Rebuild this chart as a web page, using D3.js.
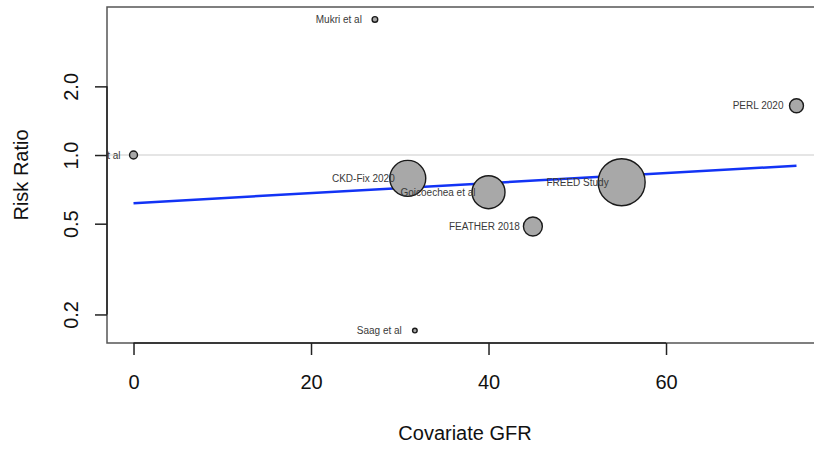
<!DOCTYPE html>
<html>
<head>
<meta charset="utf-8">
<script src="https://cdn.jsdelivr.net/npm/d3@7"></script>
<style>
  body { margin: 0; background: #fff; }
  svg { display: block; font-family: "Liberation Sans", Arial, Helvetica, sans-serif; }
</style>
</head>
<body>
<div id="chart"></div>
<script>
// study data
var studies = ["Mukri et al", "Oka et al", "CKD-Fix 2020", "Saag et al", "Goicoechea et al", "FEATHER 2018", "FREED Study", "PERL 2020"];
var gfr = [27.2, 0, 30.9, 31.7, 40.0, 45.0, 55.0, 74.7];
var rr = [3.93, 1.0, 0.79, 0.17, 0.687, 0.486, 0.76, 1.644];
var weights = [0.6, 1.2, 24.6, 0.4, 20.6, 6.8, 41.9, 3.7];

// fitted meta-regression line (ends)
var fit_x = [0, 74.7];
var fit_rr = [0.615, 0.898];

var x_ticks = [0, 20, 40, 60];
var y_ticks = [0.2, 0.5, 1.0, 2.0];

function add_svg(wrapper)
{
  var svg = d3.select(wrapper).select("svg");
  if (svg.empty())
    svg = d3.select(wrapper).append("svg");
  else
    svg.selectAll("*").remove();
  return svg.attr("width", 814).attr("height", 450);
}

function draw_bubble(wrapper)
{
  let svg = add_svg(wrapper);
  let left = 107, right = 823, top = 7, bottom = 343;

  // R style 4% padding on both axes
  let x_min = d3.min(gfr), x_max = d3.max(gfr);
  let xpad = (x_max - x_min) * 0.04;
  let scalex = d3.scaleLinear().domain([x_min - xpad, x_max + xpad]).range([left, right]);

  let ly = d3.extent(rr, d => Math.log10(d));
  let ypad = (ly[1] - ly[0]) * 0.04;
  let scaley = d3.scaleLog()
    .domain([Math.pow(10, ly[0] - ypad), Math.pow(10, ly[1] + ypad)])
    .range([bottom, top]);

  let scaler = d3.scaleSqrt().domain([0, d3.max(weights)]).range([0, 23.5]);

  svg.append("clipPath").attr("id", "clip")
    .append("rect").attr("x", left).attr("y", top)
    .attr("width", right - left).attr("height", bottom - top);

  // reference line at RR = 1
  svg.append("line")
    .attr("x1", left).attr("x2", right)
    .attr("y1", scaley(1)).attr("y2", scaley(1))
    .attr("stroke", "#dcdcdc").attr("stroke-width", 1.5);

  // regression line
  let line = d3.line().x(d => scalex(d[0])).y(d => scaley(d[1]));
  svg.append("path")
    .datum(fit_x.map((v, i) => [v, fit_rr[i]]))
    .attr("d", line)
    .attr("fill", "none")
    .attr("stroke", "#1233f5")
    .attr("stroke-width", 2.5);

  let g = svg.append("g").attr("clip-path", "url(#clip)");

  // bubbles
  g.selectAll("circle")
    .data(studies)
    .enter().append("circle")
    .attr("cx", (d, i) => scalex(gfr[i]))
    .attr("cy", (d, i) => scaley(rr[i]))
    .attr("r", (d, i) => Math.max(2.3, scaler(weights[i])))
    .attr("fill", "#a8a8a8")
    .attr("stroke", "#1a1a1a")
    .attr("stroke-width", 1.4);

  // study labels left of each bubble
  g.selectAll("text.lab")
    .data(studies)
    .enter().append("text")
    .attr("class", "lab")
    .attr("x", (d, i) => scalex(gfr[i]) - 13)
    .attr("y", (d, i) => scaley(rr[i]))
    .attr("dy", "0.35em")
    .attr("text-anchor", "end")
    .attr("font-size", 10)
    .attr("fill", "#3a3a3a")
    .text(d => d);

  // box
  svg.append("rect")
    .attr("x", left).attr("y", top)
    .attr("width", right - left).attr("height", bottom - top)
    .attr("fill", "none").attr("stroke", "#555").attr("stroke-width", 1.5);

  // x axis
  let x_axis = d3.axisBottom(scalex).tickValues(x_ticks).tickSize(12).tickPadding(20).tickFormat(d3.format("d"));
  let gx = svg.append("g").attr("transform", "translate(0," + bottom + ")").call(x_axis);
  gx.select(".domain").attr("d", "M" + scalex(x_ticks[0]) + ",0H" + scalex(x_ticks[x_ticks.length - 1]))
    .attr("stroke", "#222").attr("stroke-width", 1.5);
  gx.selectAll(".tick line").attr("stroke", "#222").attr("stroke-width", 1.5);
  gx.selectAll(".tick text").attr("font-size", 20).attr("fill", "#111")
    .attr("font-family", "Liberation Sans, Arial, sans-serif");

  // y axis, labels rotated like R's las=0
  let y_axis = d3.axisLeft(scaley).tickValues(y_ticks).tickSize(12).tickFormat(d3.format(".1f"));
  let gy = svg.append("g").attr("transform", "translate(" + left + ",0)").call(y_axis);
  gy.select(".domain").attr("d", "M0," + scaley(y_ticks[0]) + "V" + scaley(y_ticks[y_ticks.length - 1]))
    .attr("stroke", "#222").attr("stroke-width", 1.5);
  gy.selectAll(".tick line").attr("stroke", "#222").attr("stroke-width", 1.5);
  gy.selectAll(".tick text")
    .attr("x", null).attr("dy", null)
    .attr("transform", "translate(-29,0) rotate(-90)")
    .attr("text-anchor", "middle")
    .attr("font-size", 20).attr("fill", "#111")
    .attr("font-family", "Liberation Sans, Arial, sans-serif");

  // axis titles
  svg.append("text")
    .attr("x", (left + right) / 2).attr("y", 440)
    .attr("text-anchor", "middle").attr("font-size", 20).attr("fill", "#111")
    .text("Covariate GFR");

  svg.append("text")
    .attr("transform", "translate(28," + (top + bottom) / 2 + ") rotate(-90)")
    .attr("text-anchor", "middle").attr("font-size", 20).attr("fill", "#111")
    .text("Risk Ratio");
}

draw_bubble("#chart");
</script>
</body>
</html>
